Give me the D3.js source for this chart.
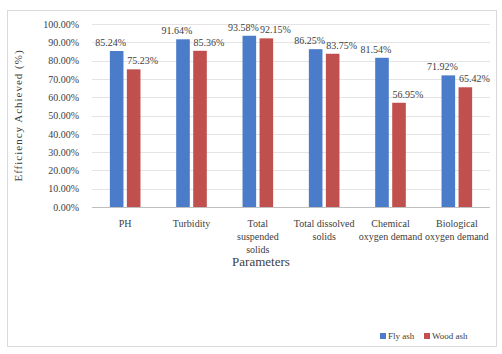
<!DOCTYPE html>
<html>
<head>
<meta charset="utf-8">
<script src="https://cdn.jsdelivr.net/npm/d3@7"></script>
<style>
  body { margin: 0; background: #fff; }
  svg text { font-family: "Liberation Serif", "Times New Roman", Times, "Nimbus Roman", "Noto Serif", "DejaVu Serif", serif !important; fill: #404040; }
</style>
</head>
<body>
<div id="chart"></div>
<script>
  'use strict';

  var categories = [
    ['PH'],
    ['Turbidity'],
    ['Total', 'suspended', 'solids'],
    ['Total dissolved', 'solids'],
    ['Chemical', 'oxygen demand'],
    ['Biological', 'oxygen demand']
  ];
  var seriesNames = ['Fly ash', 'Wood ash'];
  var flyAsh = [85.24, 91.64, 93.58, 86.25, 81.54, 71.92];
  var woodAsh = [75.23, 85.36, 92.15, 83.75, 56.95, 65.42];
  var yTicks = [0, 10, 20, 30, 40, 50, 60, 70, 80, 90, 100];
  var colors = ['#4a7cc9', '#c0504d'];

  var width = 502, height = 354;
  var margin = { top: 24, left: 92, right: 490, bottom: 207 };

  var svg = d3.select('#chart').append('svg')
    .attr('width', width)
    .attr('height', height);

  // outer frame
  svg.append('rect')
    .attr('x', 7.5).attr('y', 10.5)
    .attr('width', 489).attr('height', 336)
    .attr('fill', 'none')
    .attr('stroke', '#d9d9d9');

  var x = d3.scaleBand()
    .domain(d3.range(categories.length))
    .range([margin.left, margin.right]);

  var xs = d3.scaleBand()
    .domain([0, 1])
    .range([0, x.bandwidth()])
    .paddingInner(0.2)
    .paddingOuter(1.05);

  var y = d3.scaleLinear()
    .domain([0, 100])
    .range([margin.bottom, margin.top]);

  // grid
  svg.append('g')
    .selectAll('line')
    .data(yTicks)
    .enter()
    .append('line')
    .attr('x1', margin.left)
    .attr('x2', margin.right)
    .attr('y1', function (d) { return Math.round(y(d)) + 0.5; })
    .attr('y2', function (d) { return Math.round(y(d)) + 0.5; })
    .attr('stroke', function (d) { return d === 0 ? '#bfbfbf' : '#e4e4e4'; });

  // y axis labels
  var yAxis = svg.append('g')
    .attr('transform', 'translate(' + (margin.left - 10) + ',0)')
    .call(d3.axisLeft(y).tickValues(yTicks).tickSize(0)
      .tickFormat(function (d) { return d.toFixed(2) + '%'; }));
  yAxis.attr('font-family', null);
  yAxis.select('.domain').remove();
  yAxis.selectAll('text')
    .attr('font-size', 10)
    .attr('fill', '#404040');

  // bars
  var groups = svg.append('g')
    .selectAll('g')
    .data(categories)
    .enter()
    .append('g')
    .attr('transform', function (d, i) { return 'translate(' + x(i) + ',0)'; });

  [flyAsh, woodAsh].forEach(function (series, s) {
    groups.append('rect')
      .attr('x', xs(s))
      .attr('width', xs.bandwidth())
      .attr('y', function (d, i) { return y(series[i]); })
      .attr('height', function (d, i) { return y(0) - y(series[i]); })
      .attr('fill', colors[s]);

    groups.append('text')
      .attr('x', xs(s) + xs.bandwidth() / 2 + (s === 1 ? 9 : -6))
      .attr('y', function (d, i) { return y(series[i]) - 5; })
      .attr('text-anchor', 'middle')
      .attr('font-size', 10)
      .text(function (d, i) { return series[i].toFixed(2) + '%'; });
  });

  // category labels
  groups.append('text')
    .attr('text-anchor', 'middle')
    .attr('font-size', 10)
    .attr('x', x.bandwidth() / 2)
    .attr('y', margin.bottom + 20)
    .selectAll('tspan')
    .data(function (d) { return d; })
    .enter()
    .append('tspan')
    .attr('x', x.bandwidth() / 2)
    .attr('dy', function (d, i) { return i === 0 ? 0 : 13; })
    .text(function (d) { return d; });

  // axis titles
  svg.append('text')
    .attr('x', (margin.left + margin.right) / 2 - 30)
    .attr('y', 266)
    .attr('text-anchor', 'middle')
    .attr('font-size', 13)
    .text('Parameters');

  svg.append('text')
    .attr('transform', 'translate(22,' + ((margin.top + margin.bottom) / 2) + ') rotate(-90)')
    .attr('text-anchor', 'middle')
    .attr('font-size', 11)
    .attr('letter-spacing', 1)
    .text('Efficiency Achieved (%)');

  // legend
  var legend = svg.append('g')
    .attr('transform', 'translate(380,339)');
  seriesNames.forEach(function (name, i) {
    var g = legend.append('g').attr('transform', 'translate(' + (i * 44) + ',0)');
    g.append('rect')
      .attr('x', 0).attr('y', -6)
      .attr('width', 6).attr('height', 6)
      .attr('fill', colors[i]);
    g.append('text')
      .attr('x', 8).attr('y', 0)
      .attr('font-size', 9)
      .text(name);
  });
</script>
</body>
</html>
